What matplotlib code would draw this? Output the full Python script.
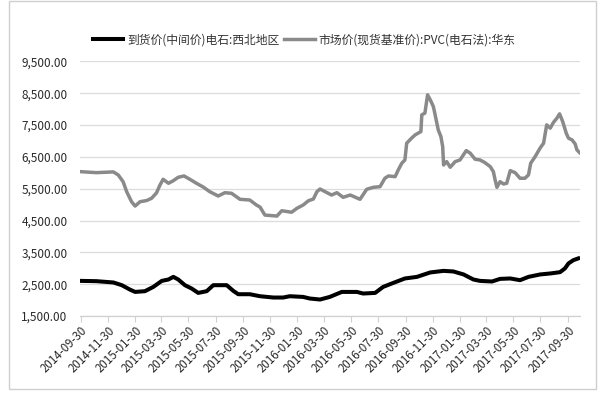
import matplotlib
matplotlib.use("Agg")
import matplotlib.pyplot as plt
import numpy as np
import pandas as pd
from matplotlib.patches import Rectangle
from matplotlib.ticker import FuncFormatter

plt.rcParams['font.family'] = ['Noto Sans CJK SC', 'DejaVu Sans']

series_black_name = "到货价(中间价)电石:西北地区"
series_gray_name = "市场价(现货基准价):PVC(电石法):华东"

black_dates = ["2014-09-30", "2014-11-04", "2014-12-12", "2014-12-31", "2015-01-18", "2015-01-30",
               "2015-02-21", "2015-03-12", "2015-03-31", "2015-04-15", "2015-04-26", "2015-05-07",
               "2015-05-22", "2015-06-06", "2015-06-21", "2015-07-10", "2015-07-25", "2015-08-24",
               "2015-09-08", "2015-09-19", "2015-10-15", "2015-11-07", "2015-12-07", "2015-12-29",
               "2016-01-13", "2016-02-12", "2016-02-27", "2016-03-21", "2016-04-12", "2016-05-09",
               "2016-06-12", "2016-06-26", "2016-07-23", "2016-08-10", "2016-09-02", "2016-09-28",
               "2016-10-25", "2016-11-24", "2016-12-24", "2017-01-15", "2017-02-07", "2017-03-01",
               "2017-03-16", "2017-04-12", "2017-04-30", "2017-05-23", "2017-06-14", "2017-07-03",
               "2017-07-29", "2017-08-21", "2017-09-12", "2017-09-23", "2017-10-01", "2017-10-12",
               "2017-10-23"]
black_values = [2604, 2595, 2554, 2469, 2333, 2257,
                2280, 2415, 2604, 2648, 2730, 2648,
                2469, 2365, 2226, 2280, 2469, 2469,
                2289, 2185, 2185, 2122, 2081, 2081,
                2122, 2100, 2050, 2018, 2100, 2257,
                2257, 2207, 2226, 2415, 2541, 2680,
                2730, 2869, 2919, 2900, 2806, 2648,
                2604, 2585, 2667, 2680, 2626, 2730,
                2806, 2837, 2878, 2995, 3152, 3256,
                3310]

gray_dates = ["2014-09-30", "2014-11-04", "2014-12-12", "2014-12-23", "2015-01-03", "2015-01-11",
              "2015-01-22", "2015-01-30", "2015-02-10", "2015-02-25", "2015-03-08", "2015-03-19",
              "2015-03-27", "2015-04-03", "2015-04-15", "2015-04-26", "2015-05-07", "2015-05-20",
              "2015-06-02", "2015-06-17", "2015-07-02", "2015-07-17", "2015-08-05", "2015-08-20",
              "2015-09-04", "2015-09-23", "2015-10-15", "2015-10-30", "2015-11-07", "2015-11-18",
              "2015-12-15", "2015-12-26", "2016-01-17", "2016-01-29", "2016-02-12", "2016-02-24",
              "2016-03-06", "2016-03-14", "2016-03-21", "2016-04-05", "2016-04-16", "2016-04-28",
              "2016-05-12", "2016-05-28", "2016-06-19", "2016-07-04", "2016-07-19", "2016-08-03",
              "2016-08-14", "2016-08-22", "2016-09-06", "2016-09-13", "2016-09-21", "2016-09-28",
              "2016-10-02", "2016-10-13", "2016-10-21", "2016-11-03", "2016-11-05", "2016-11-12",
              "2016-11-18", "2016-11-24", "2016-12-01", "2016-12-05", "2016-12-12", "2016-12-18",
              "2016-12-22", "2016-12-24", "2016-12-31", "2017-01-08", "2017-01-19", "2017-01-30",
              "2017-02-13", "2017-02-22", "2017-03-05", "2017-03-16", "2017-03-27", "2017-04-08",
              "2017-04-15", "2017-04-19", "2017-04-23", "2017-04-30", "2017-05-08", "2017-05-15",
              "2017-05-23", "2017-06-03", "2017-06-14", "2017-06-25", "2017-07-03", "2017-07-08",
              "2017-07-18", "2017-07-29", "2017-08-06", "2017-08-13", "2017-08-21", "2017-08-28",
              "2017-09-05", "2017-09-11", "2017-09-18", "2017-09-26", "2017-10-01", "2017-10-09",
              "2017-10-16", "2017-10-20", "2017-10-26"]
gray_values = [6037, 6006, 6030, 5934, 5722, 5407,
               5092, 4957, 5092, 5130, 5200, 5367,
               5619, 5798, 5672, 5754, 5861, 5902,
               5798, 5672, 5556, 5407, 5272, 5376,
               5357, 5168, 5146, 4988, 4925, 4673,
               4642, 4809, 4762, 4885, 4988, 5124,
               5177, 5407, 5492, 5382, 5303, 5376,
               5231, 5303, 5168, 5483, 5546, 5565,
               5830, 5902, 5880, 6091, 6302, 6406,
               6932, 7090, 7193, 7297, 7823, 7877,
               8453, 8296, 8085, 7823, 7351, 7140,
               6825, 6248, 6352, 6176, 6352, 6406,
               6699, 6617, 6428, 6406, 6321, 6195,
               6037, 5776, 5546, 5722, 5650, 5672,
               6069, 6006, 5830, 5830, 5934, 6302,
               6510, 6775, 6932, 7509, 7405, 7581,
               7720, 7855, 7612, 7247, 7090, 7036,
               6910, 6721, 6636]

tick_labels = ["2014-09-30", "2014-11-30", "2015-01-30", "2015-03-30", "2015-05-30", "2015-07-30",
               "2015-09-30", "2015-11-30", "2016-01-30", "2016-03-30", "2016-05-30", "2016-07-30",
               "2016-09-30", "2016-11-30", "2017-01-30", "2017-03-30", "2017-05-30", "2017-07-30",
               "2017-09-30"]

y_ticks = [1500, 2500, 3500, 4500, 5500, 6500, 7500, 8500, 9500]

fig = plt.figure(figsize=(6.02, 3.96), dpi=100)
ax = fig.add_axes([0.1329, 0.202, 0.8306, 0.6427])

bd = pd.to_datetime(black_dates)
gd = pd.to_datetime(gray_dates)
ax.plot(bd, black_values, color="#000000", lw=2.9, solid_joinstyle="round", zorder=3,
        label=series_black_name)
ax.plot(gd, gray_values, color="#8a8a8a", lw=2.5, solid_joinstyle="round", zorder=2,
        label=series_gray_name)

ax.set_ylim(y_ticks[0], y_ticks[-1])
ax.set_yticks(y_ticks)
ax.yaxis.set_major_formatter(FuncFormatter(lambda v, p: f"{v:,.2f}"))
ax.grid(axis="y", color="#dcdcdc", lw=0.9)
ax.set_axisbelow(True)

td = pd.to_datetime(tick_labels)
ax.set_xticks(td)
ax.set_xticklabels(tick_labels, rotation=45, ha="right", rotation_mode="anchor",
                   fontsize=8.3, color="#2a2a2a")
ax.set_xlim(pd.Timestamp("2014-09-28"), pd.Timestamp("2017-10-27"))

for s in ["top", "right", "left"]:
    ax.spines[s].set_visible(False)
ax.spines["bottom"].set_color("#d0d0d0")
ax.spines["bottom"].set_linewidth(0.9)
ax.tick_params(axis="x", length=4, color="#d0d0d0", pad=2)
ax.tick_params(axis="y", length=0, pad=9, labelsize=8.5, labelcolor="#2a2a2a")

fig.legend(loc="center", bbox_to_anchor=(0.505, 0.899), ncol=2, frameon=False,
           fontsize=8.5, handlelength=2.6, handletextpad=0.3, columnspacing=0.4,
           labelcolor="#333333")

fig.patches.append(Rectangle((9 / 602, 1 - 389 / 396), 587 / 602, 388 / 396,
                             transform=fig.transFigure, fill=False,
                             edgecolor="#cfcfcf", lw=1.0))

fig.savefig("out.png", dpi=100)
